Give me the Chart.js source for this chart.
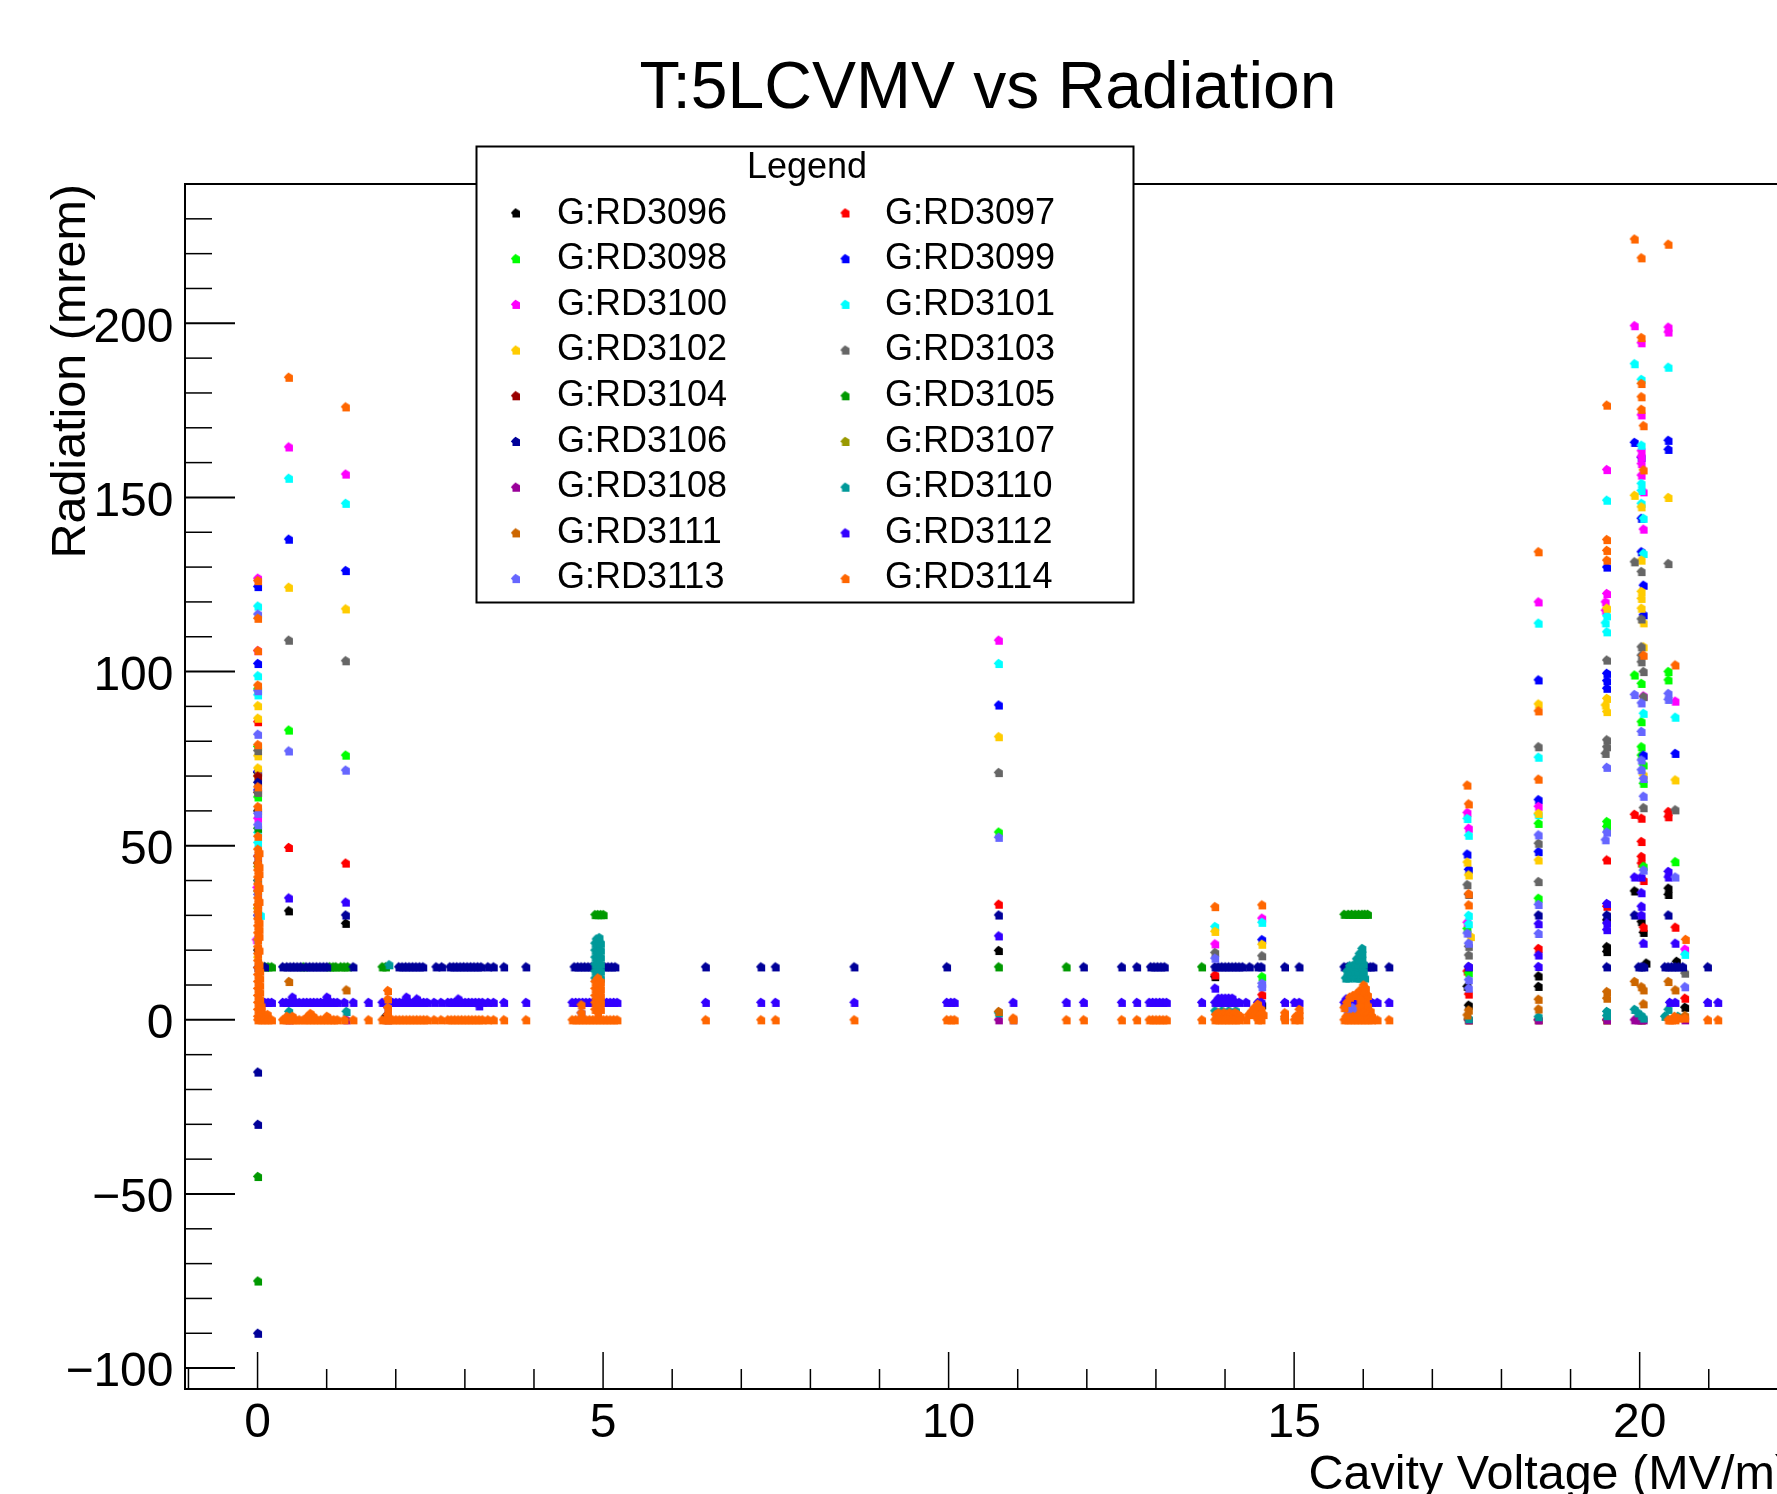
<!DOCTYPE html>
<html>
<head>
<meta charset="utf-8">
<title>T:5LCVMV vs Radiation</title>
<script src="https://cdn.jsdelivr.net/npm/chart.js@4/dist/chart.umd.min.js"></script>
<style>
    html, body { margin: 0; padding: 0; background: #fff; overflow: hidden; width: 1777px; height: 1494px; }
    canvas { display: block; filter: blur(0.5px); }
</style>
</head>
<body>
<canvas id="radiation-chart" width="1796" height="1504"></canvas>
<script>
const seriesNames = ['G:RD3096', 'G:RD3097', 'G:RD3098', 'G:RD3099', 'G:RD3100', 'G:RD3101', 'G:RD3102', 'G:RD3103', 'G:RD3104',
    'G:RD3105', 'G:RD3106', 'G:RD3107', 'G:RD3108', 'G:RD3110', 'G:RD3111', 'G:RD3112', 'G:RD3113', 'G:RD3114'];
const seriesColors = ['#000000', '#ff0000', '#00ff00', '#0000ff', '#ff00ff', '#00ffff', '#ffcc00', '#666666', '#990000',
    '#009900', '#000099', '#999900', '#990099', '#009999', '#cc6600', '#3300ff', '#6666ff', '#ff6600'];

const xMajorTicks = [0, 5, 10, 15, 20];
const xMinorTicks = [-1, 1, 2, 3, 4, 6, 7, 8, 9, 11, 12, 13, 14, 16, 17, 18, 19, 21, 22];
const yMajorTicks = [-100, -50, 0, 50, 100, 150, 200];
const yMinorTicks = [-90, -80, -70, -60, -40, -30, -20, -10, 10, 20, 30, 40, 60, 70, 80, 90, 110, 120, 130, 140, 160, 170, 180, 190, 210, 220, 230];

// voltages where the flat rows show up (G:RD3106 at 15, G:RD3112 at 5, G:RD3114 at 0)
const scan15 = [0.1, 0.36, 0.42, 0.47, 0.52, 0.57, 0.62, 0.7, 0.75, 0.8, 0.85, 0.9, 0.95, 1.0, 1.38,
    2.04, 2.09, 2.14, 2.19, 2.24, 2.29, 2.34, 2.39, 2.58, 2.66, 2.78, 2.83, 2.88, 2.93, 2.98, 3.03, 3.08, 3.13, 3.18, 3.23, 3.33, 3.41, 3.56, 3.88,
    4.58, 4.63, 4.68, 4.73, 4.78, 4.83, 5.02, 5.07, 5.12, 5.17, 6.48, 7.28, 7.49, 8.63, 9.97, 11.95, 12.5, 12.72,
    12.92, 12.97, 13.02, 13.07, 13.12, 13.85, 13.9, 13.95, 14.0, 14.05, 14.1, 14.15, 14.2, 14.25, 14.35, 14.47, 14.52, 14.86, 15.07,
    15.72, 15.77, 16.05, 16.1, 16.14, 16.37, 17.52, 19.52, 19.98, 20.02, 20.06, 20.36, 20.41, 20.46, 20.51, 20.56, 20.62, 20.98];
const scanBase = [0.1, 0.15, 0.2, 0.36, 0.41, 0.46, 0.5, 0.55, 0.6, 0.66, 0.71, 0.76, 0.81, 0.86, 0.91, 0.96, 1.01, 1.06, 1.1, 1.15, 1.25, 1.38, 1.6,
    1.8, 1.85, 1.9, 1.95, 2.0, 2.05, 2.1, 2.15, 2.2, 2.25, 2.3, 2.35, 2.4, 2.45, 2.55, 2.65, 2.75, 2.8, 2.85, 2.9, 2.95, 3.0, 3.05, 3.1, 3.15, 3.2, 3.25, 3.33, 3.41, 3.56, 3.88,
    4.55, 4.6, 4.65, 4.7, 4.75, 4.8, 4.85, 4.9, 4.95, 5.0, 5.05, 5.1, 5.15, 5.2, 6.48, 7.28, 7.49, 8.63, 9.97, 10.03, 10.08, 10.93, 11.7, 11.95, 12.5, 12.72,
    12.9, 12.95, 13.0, 13.05, 13.1, 13.15, 13.66, 13.85, 13.9, 13.95, 14.0, 14.05, 14.1, 14.15, 14.2, 14.3, 14.47, 14.52, 14.86, 15.0, 15.07,
    15.72, 15.77, 15.82, 15.87, 15.92, 15.97, 16.02, 16.07, 16.12, 16.2, 16.37, 20.43, 20.51, 20.98, 21.13];
const scan105 = [0.1, 0.15, 0.2, 0.66, 1.04, 1.09, 1.13, 1.2, 1.25, 1.3, 1.8, 1.85, 10.72, 11.7, 13.66];

const RD3096 = [[0, 71], [0, 60], [0, 45], [0, 32], [0, 20], [0.446, 31.3], [1.27, 27.7], [1.85, 1], [10.72, 19.9], [13.85, 12.4], [14.53, 4.3],
    [17.5, 9.6], [17.52, 4.2], [18.53, 12.6], [18.53, 9.6], [19.52, 28.7], [19.52, 21], [19.52, 19.6], [19.92, 37], [20.02, 28.2], [20.05, 25.1], [20.09, 16.3],
    [20.41, 37.8], [20.41, 36], [20.53, 16.8], [20.65, 3.6]];
const RD3097 = [[0, 85.6], [0, 65.3], [0, 40], [0.446, 49.5], [1.27, 45], [1.88, 1.5], [4.92, 3], [10.72, 33.2], [13.85, 12.9], [14.53, 7.2],
    [17.5, 14], [17.52, 7.4], [18.53, 20.5], [19.52, 45.9], [19.52, 32.6], [19.92, 59], [20.02, 57.9], [20.02, 51.2], [20.02, 46.9], [20.02, 45], [20.05, 40], [20.05, 26.6],
    [20.41, 59.8], [20.41, 58.3], [20.51, 26.6], [20.65, 6.2]];
const RD3098 = [[0, 95], [0, 78.5], [0, 64], [0, 37], [0.446, 83.2], [1.27, 76], [10.72, 53.9], [14.53, 12.4], [17.5, 26.2], [17.52, 13.5], [18.53, 56.4], [18.53, 34.9],
    [19.52, 56.9], [19.52, 55.5], [19.92, 99], [20.02, 96.6], [20.02, 85.6], [20.02, 78.4], [20.02, 76], [20.05, 73.2], [20.05, 67.9], [20.05, 44.1],
    [20.41, 100], [20.41, 97.6], [20.51, 45.4]];
const RD3099 = [[0, 124.4], [0, 102.3], [0, 71.3], [0, 66], [0.446, 138], [1.27, 129], [10.72, 90.4], [14.53, 23], [17.5, 47.6], [17.52, 43.2],
    [18.53, 97.6], [18.53, 63.2], [18.53, 48.3], [19.52, 130], [19.52, 99.5], [19.52, 97.4], [19.52, 95.2], [19.92, 165.8], [20.02, 161.5], [20.02, 144], [20.02, 134.4],
    [20.05, 124.8], [20.05, 116.3], [20.05, 76], [20.41, 166.4], [20.41, 163.8], [20.51, 76.5]];
const RD3100 = [[0, 126.8], [0, 106], [0, 57.9], [-0.01, 38], [-0.02, 23], [0.446, 164.5], [1.27, 156.7], [10.72, 109], [13.85, 21.8], [14.53, 29.2],
    [17.5, 59.5], [17.52, 55], [17.5, 28], [18.53, 120], [18.53, 61.3], [19.52, 158], [19.52, 122.4], [19.5, 120], [19.5, 117.6], [19.92, 199.3], [20.02, 194.4], [20.02, 173.7],
    [20.02, 163.4], [20.02, 161.7], [20.02, 159.7], [20.02, 156.4], [20.05, 151.6], [20.05, 140.9], [20.05, 93], [20.41, 198.9], [20.41, 197.5], [20.51, 91.5], [20.65, 20.3]];
const RD3101 = [[0, 118.8], [0, 98.8], [0, 93.3], [0, 53.8], [0, 50.9], [0.04, 30], [0, 23], [0.446, 155.5], [1.27, 148.3], [10.72, 102.3], [13.85, 26.8], [14.53, 28],
    [17.5, 57.8], [17.52, 53], [17.52, 30], [17.52, 27.6], [18.53, 113.9], [18.53, 75.4], [18.53, 58.9], [19.52, 149.2], [19.52, 116], [19.5, 114], [19.52, 111.4],
    [19.92, 188.4], [20.02, 183.9], [20.02, 165], [20.02, 154], [20.02, 152], [20.02, 148.3], [20.05, 144], [20.05, 133.9], [20.05, 88], [20.41, 187.4], [20.51, 86.9], [20.65, 18.8]];
const RD3102 = [[0, 90.2], [0, 86.6], [0, 75.8], [0, 72.3], [0, 70], [0, 32], [0, 18], [0.446, 124.2], [1.27, 118], [10.72, 81.3], [13.85, 25.4], [14.53, 21.7],
    [17.5, 45.3], [17.52, 41.6], [17.55, 23.9], [18.53, 90.7], [18.53, 59.3], [18.53, 45.9], [19.52, 118.2], [19.52, 92.3], [19.5, 90.4], [19.52, 88.5], [19.92, 150.6], [20.02, 147.3],
    [20.02, 132], [20.02, 123], [20.02, 121], [20.02, 118.2], [20.05, 114], [20.05, 107.1], [20.05, 70.3], [20.41, 150], [20.51, 68.9]];
const RD3103 = [[0, 77.3], [0, 65.3], [0.446, 109], [1.27, 103.1], [10.72, 71], [13.85, 19.3], [14.53, 18.4], [14.45, 2.5], [17.5, 38.8], [17.52, 36], [17.52, 21.1], [17.52, 18.6],
    [18.53, 78.4], [18.53, 50.7], [18.53, 39.7], [19.52, 103.3], [19.52, 80.4], [19.52, 78.4], [19.5, 76.5], [19.92, 131.5], [20.02, 128.7], [20.02, 115.1], [20.02, 107.1], [20.02, 104.7],
    [20.02, 102.8], [20.05, 100], [20.05, 92.8], [20.05, 60.9], [20.41, 131], [20.51, 60.3], [20.65, 13.4]];
const RD3104 = [[0, 70], [1.88, 0], [17.52, 0], [18.53, 0], [19.52, 0], [20.02, 0]];
const RD3105 = [[0, -45], [0, -75], [0, 55], [4.88, 30.2], [4.92, 30.2], [4.96, 30.2], [5.0, 30.2], [15.72, 30.3], [15.78, 30.3], [15.83, 30.3], [15.88, 30.3], [15.93, 30.3], [15.98, 30.3], [16.02, 30.3], [16.06, 30.3]];
const RD3106 = [[0, -15], [0, -30], [0, -90], [0, 68.2], [0, 30], [0, 15], [1.27, 30.1], [10.72, 30.1], [18.53, 30.1], [19.52, 30.1], [19.92, 30.1], [20.41, 30.1]];
const RD3107 = [[0, 44], [17.52, 0], [19.52, 0], [20.02, 0]];
const RD3108 = [[0.45, 0], [1.28, 0], [10.72, 0], [17.52, 0], [18.53, 0], [19.52, 0], [19.92, 0], [19.97, 0], [20.02, 0], [20.05, 0], [20.65, 0]];
const RD3110 = [[0, 40], [0.45, 2.4], [1.28, 2.4], [1.9, 15.8], [10.72, 2], [17.52, 0.3], [18.53, 0.9], [19.52, 2.4], [19.52, 1.2], [19.92, 3], [19.97, 2], [20.02, 1.2], [20.05, 0.5],
    [20.41, 3], [20.36, 1], [20.55, 1], [13.85, 2.6], [13.95, 2.6], [14.05, 2.6], [14.15, 2.6], [14.5, 1],
    [4.88, 12], [4.92, 12], [4.96, 12], [4.88, 14], [4.92, 14], [4.96, 14], [4.88, 16], [4.92, 16], [4.96, 16], [4.88, 18], [4.92, 18], [4.96, 18], [4.88, 20], [4.92, 20], [4.96, 20], [4.88, 22], [4.92, 22], [4.96, 22], [4.9, 23.2], [4.94, 23.6],
    [15.74, 12], [15.78, 12], [15.82, 12.5], [15.88, 12], [15.94, 12], [15.98, 12], [16.02, 12], [15.76, 14], [15.8, 14], [15.84, 14], [15.88, 14], [15.92, 14], [15.96, 14], [16.0, 14],
    [15.8, 15.5], [15.84, 15.5], [15.88, 16], [15.92, 16], [15.96, 16], [16.0, 16], [15.9, 17.5], [15.94, 17.5], [15.98, 17.5], [15.94, 19], [15.98, 19], [15.98, 20.5]];
const RD3111 = [[0, 33], [0.45, 11], [1.28, 8.6], [10.72, 2.4], [14.86, 0.5], [17.52, 2.8], [17.5, 1.4], [18.53, 5.9], [18.53, 3.1], [19.52, 8.1], [19.52, 6.2], [19.92, 11], [20.02, 9.5],
    [20.05, 8.6], [20.05, 4.6], [20.41, 11], [20.51, 8.6], [20.65, 1.2]];
const RD3112 = [[0, 47], [0.446, 35], [0.5, 6.5], [1.0, 6.5], [2.15, 6.5], [2.3, 6], [2.9, 6], [3.2, 4], [1.27, 33.8], [10.72, 24.1], [13.85, 9.1], [17.52, 15.3],
    [18.53, 27.6], [18.53, 18.6], [18.53, 15.3], [19.52, 33.4], [19.52, 27.8], [19.52, 25.9], [19.92, 41], [20.02, 41], [20.02, 36.5], [20.02, 32.6], [20.02, 30.1], [20.05, 22],
    [20.41, 42.6], [20.41, 41], [20.51, 22], [13.9, 6.2], [13.95, 6.2], [14.0, 6.2], [14.05, 6.2], [14.1, 6.2], [15.75, 6], [15.8, 6], [15.85, 6]];
const RD3113 = [[0, 116.5], [0, 94.5], [0, 82], [0, 59.3], [0, 56], [0, 36], [0, 30], [0.446, 77.2], [1.27, 71.7], [1.88, 3.5], [4.68, 2], [4.92, 4], [10.72, 52.4], [10.93, 0],
    [13.85, 17.7], [14.53, 10.5], [14.53, 9.5], [17.5, 24.9], [17.52, 22], [17.52, 11.5], [17.52, 9.1], [18.53, 53.1], [18.53, 33.1], [18.53, 24.8], [19.52, 72.5], [19.52, 53.9], [19.5, 51.7],
    [19.92, 93.4], [20.02, 91], [20.02, 82.8], [20.02, 74.6], [20.02, 71.8], [20.05, 69.3], [20.05, 64.2], [20.05, 43], [20.41, 93.7], [20.41, 92], [20.51, 41], [20.65, 9.5],
    [15.78, 3.5], [15.84, 3.5], [15.9, 3], [15.78, 2], [15.84, 2], [15.9, 2]];
const RD3114 = [[0, 126.1], [0, 115.3], [0, 106], [0, 96.1], [0, 79], [0, 66.9], [0, 61.2], [0, 52.7], [0, 49], [0, 47], [0, 45], [0, 43], [0, 41], [0, 39], [0, 37], [0, 35], [0, 33], [0, 31], [0, 29],
    [0, 27], [0, 25], [0, 23], [0, 21], [0, 19], [0, 17], [0, 15], [0, 13], [0, 11], [0, 9], [0, 7], [0, 5], [0, 3], [0, 1], [0, 0],
    [0.02, 48], [0.02, 44], [0.02, 42], [0.02, 38], [0.02, 34], [0.02, 28], [0.02, 26], [0.02, 24], [0.02, 20], [0.02, 16], [0.03, 14], [0.03, 12], [0.03, 10], [0.03, 8], [0.03, 6], [0.05, 4], [0.05, 3], [0.05, 1.5], [0.05, 0], [0.09, 1.5], [0.14, 1.5],
    [0.446, 184.5], [1.27, 176], [0.76, 1.8], [0.8, 1], [0.72, 1], [0.42, 1], [0.5, 1], [1.0, 1],
    [1.88, 8.4], [1.88, 6], [1.88, 3.5], [1.88, 1.5], [4.68, 4.3], [4.68, 2],
    [4.88, 11], [4.92, 12], [4.96, 11], [4.88, 9], [4.92, 10], [4.96, 9], [4.88, 7], [4.92, 8], [4.96, 7], [4.88, 5], [4.92, 6], [4.96, 5], [4.88, 3], [4.92, 4], [4.96, 3], [4.92, 2],
    [10.93, 0.5], [13.85, 32.5], [14.53, 33],
    [13.86, 1.5], [13.9, 2], [13.94, 1.5], [13.98, 2], [14.02, 1.5], [14.06, 2], [14.1, 1.5], [14.14, 2], [14.18, 1.5], [14.22, 1], [14.34, 1.5], [14.38, 2.5], [14.42, 3.5], [14.47, 4.5], [14.52, 3], [14.55, 1.5], [14.43, 1.5], [14.5, 1.5],
    [14.86, 2], [14.86, 1], [15.07, 3], [15.02, 1], [15.07, 1.5],
    [15.72, 3.5], [15.76, 5], [15.8, 6.5], [15.85, 7], [15.9, 7.5], [15.95, 8.5], [16.0, 10], [16.03, 9], [16.06, 7], [16.0, 7.5], [16.03, 6], [16.0, 5], [16.03, 3.5], [16.06, 4], [16.1, 2.5], [15.95, 6], [15.95, 4], [15.95, 2], [16.0, 2],
    [15.75, 1], [15.8, 0.8], [15.85, 1], [15.9, 0.8], [16.06, 1.5], [16.12, 1],
    [17.5, 67.4], [17.52, 62], [17.52, 36.2], [17.52, 33], [18.53, 134.4], [18.53, 88.7], [18.53, 69.1], [19.52, 176.5], [19.52, 137.9], [19.52, 134.8], [19.52, 132],
    [19.92, 224.2], [20.02, 218.8], [20.02, 195.9], [20.02, 182.7], [20.02, 178.9], [20.02, 175.3], [20.05, 170.6], [20.05, 157.9], [20.05, 104.7], [20.41, 222.7], [20.51, 101.9], [20.66, 23.1],
    [20.41, 0], [20.46, 0], [20.5, 1], [20.56, 0.5], [20.65, 0.5]];

const flatRow = (voltages, level) => voltages.map(v => [v, level]);

const seriesPoints = [RD3096, RD3097, RD3098, RD3099, RD3100, RD3101, RD3102, RD3103, RD3104,
    RD3105.concat(flatRow(scan105, 15.2)), RD3106.concat(flatRow(scan15, 15.2)), RD3107, RD3108, RD3110, RD3111,
    RD3112.concat(flatRow(scanBase, 5)), RD3113, RD3114.concat(flatRow(scanBase, 0))];

// ROOT's small marker renders as this lumpy little shape, a plain circle looks wrong next to it
function makeMarker(color) {
    const c = document.createElement('canvas');
    c.width = 11;
    c.height = 11;
    const g = c.getContext('2d');
    const outline = [[5.5, 0.8], [7.5, 2], [10, 3.5], [10, 10], [2.5, 10], [2.5, 7], [0.8, 5.5], [2.5, 3.5], [4, 2]];
    g.fillStyle = color;
    g.beginPath();
    outline.forEach((p, i) => i ? g.lineTo(p[0], p[1]) : g.moveTo(p[0], p[1]));
    g.closePath();
    g.fill();
    return c;
}

const rootFrame = {
    id: 'rootFrame',
    beforeDatasetsDraw(chart) {
        const ctx = chart.ctx;
        const area = chart.chartArea;
        const xs = chart.scales.x;
        const ys = chart.scales.y;
        ctx.save();
        ctx.strokeStyle = '#000';

        ctx.lineWidth = 1.5;
        yMinorTicks.forEach(v => line(ctx, area.left, ys.getPixelForValue(v), area.left + 27, ys.getPixelForValue(v)));
        ctx.lineWidth = 2;
        yMajorTicks.forEach(v => line(ctx, area.left, ys.getPixelForValue(v), area.left + 50, ys.getPixelForValue(v)));
        ctx.lineWidth = 1.5;
        xMinorTicks.forEach(v => line(ctx, xs.getPixelForValue(v), area.bottom, xs.getPixelForValue(v), area.bottom - 20));
        xMajorTicks.forEach(v => line(ctx, xs.getPixelForValue(v), area.bottom, xs.getPixelForValue(v), area.bottom - 37));

        ctx.lineWidth = 2;
        ctx.strokeRect(area.left, area.top, area.right - area.left, area.bottom - area.top);
        ctx.restore();
    },
    afterDatasetsDraw(chart) {
        const ctx = chart.ctx;
        const box = { left: 476.5, top: 146.5, width: 657, height: 456 };
        ctx.save();
        ctx.fillStyle = '#fff';
        ctx.fillRect(box.left, box.top, box.width, box.height);
        ctx.strokeStyle = '#000';
        ctx.lineWidth = 2;
        ctx.strokeRect(box.left, box.top, box.width, box.height);

        ctx.fillStyle = '#000';
        ctx.font = '36px "Liberation Sans"';
        ctx.textBaseline = 'alphabetic';
        ctx.textAlign = 'center';
        ctx.fillText('Legend', 807, 177.5);
        ctx.textAlign = 'left';
        chart.data.datasets.forEach((ds, i) => {
            const row = Math.floor(i / 2);
            const col = i % 2;
            const y = 213 + row * 45.7;
            ctx.drawImage(ds.pointStyle, (col ? 845 : 515.5) - 5.5, y - 5.5);
            ctx.fillText(ds.label, col ? 885 : 557, 223.5 + row * 45.6);
        });
        ctx.restore();
    }
};

function line(ctx, x1, y1, x2, y2) {
    ctx.beginPath();
    ctx.moveTo(x1, y1);
    ctx.lineTo(x2, y2);
    ctx.stroke();
}

const chartFont = '"Liberation Sans"';

new Chart(document.getElementById('radiation-chart').getContext('2d'), {
    type: 'scatter',
    data: {
        datasets: seriesNames.map((name, i) => ({
            label: name,
            data: seriesPoints[i].map(p => ({ x: p[0], y: p[1] })),
            pointStyle: makeMarker(seriesColors[i]),
            pointRadius: 4,
            backgroundColor: seriesColors[i],
            borderColor: seriesColors[i],
            order: seriesNames.length - i
        }))
    },
    plugins: [rootFrame],
    options: {
        responsive: false,
        animation: false,
        devicePixelRatio: 1,
        layout: { padding: 0 },
        plugins: {
            legend: { display: false },
            tooltip: { enabled: false },
            title: {
                display: true,
                fullSize: false,
                text: 'T:5LCVMV vs Radiation',
                color: '#000',
                font: { family: chartFont, size: 66, weight: 'normal', lineHeight: 1.2 },
                padding: { top: 50.4, bottom: 54.4 }
            }
        },
        scales: {
            x: {
                type: 'linear',
                min: -1.05,
                max: 22.19,
                afterBuildTicks: scale => { scale.ticks = xMajorTicks.map(value => ({ value })); },
                afterFit: scale => { scale.height = 115; },
                grid: { display: false },
                border: { display: false },
                ticks: {
                    color: '#000',
                    font: { family: chartFont, size: 48 },
                    padding: -2,
                    maxRotation: 0,
                    autoSkip: false,
                    callback: v => String(v)
                },
                title: {
                    display: true,
                    text: 'Cavity Voltage (MV/m)',
                    align: 'end',
                    color: '#000',
                    font: { family: chartFont, size: 48.5, lineHeight: 1 },
                    padding: { top: 0, bottom: 4 }
                }
            },
            y: {
                type: 'linear',
                min: -106,
                max: 240,
                afterBuildTicks: scale => { scale.ticks = yMajorTicks.map(value => ({ value })); },
                afterFit: scale => { scale.width = 185; },
                grid: { display: false },
                border: { display: false },
                ticks: {
                    color: '#000',
                    font: { family: chartFont, size: 48 },
                    padding: 3.5,
                    labelOffset: 5,
                    autoSkip: false,
                    callback: v => (v < 0 ? '\u2212' + Math.abs(v) : String(v))
                },
                title: {
                    display: true,
                    text: 'Radiation (mrem)',
                    align: 'end',
                    color: '#000',
                    font: { family: chartFont, size: 48.5, lineHeight: 1 },
                    padding: { top: 47, bottom: 0 }
                }
            }
        }
    }
});
</script>
</body>
</html>
